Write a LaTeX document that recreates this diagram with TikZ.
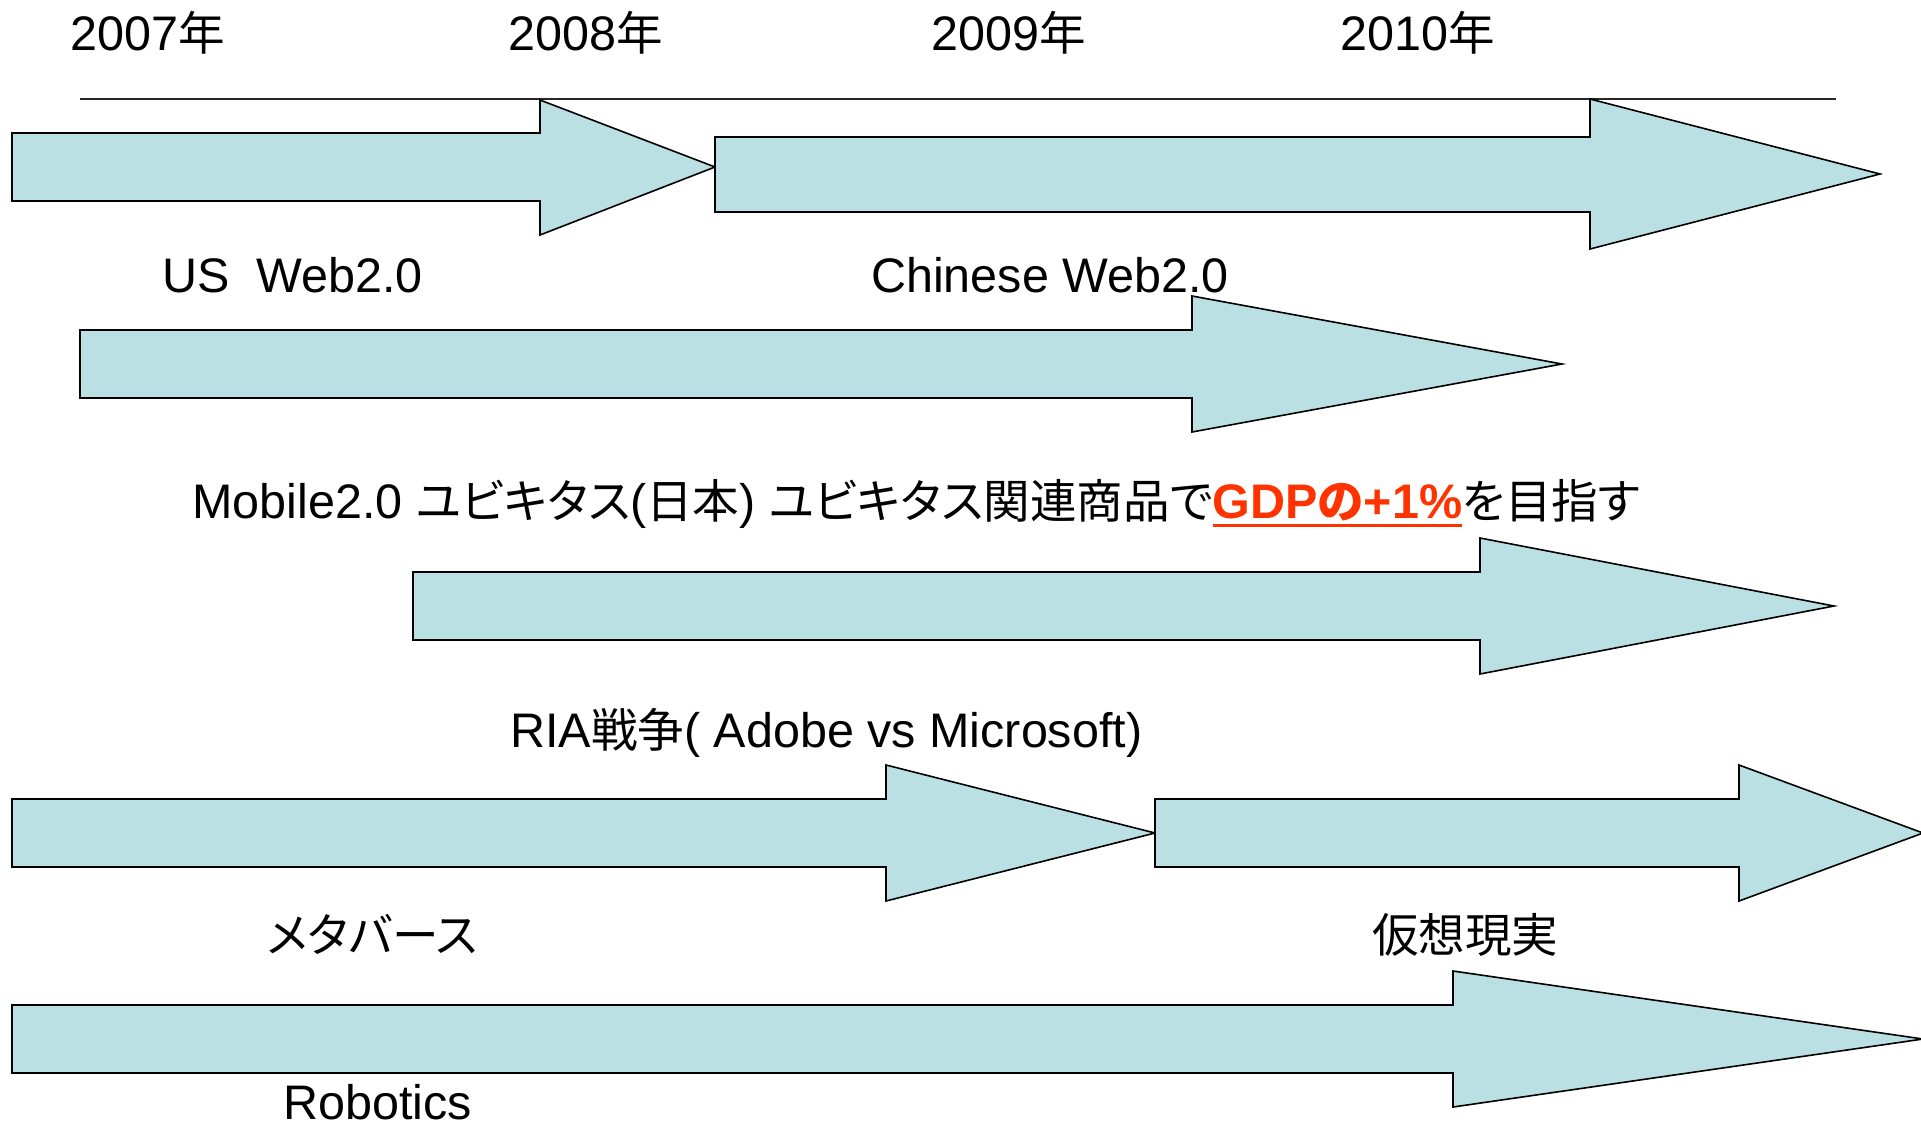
\documentclass[tikz,border=0pt]{standalone}
\usepackage{fontspec}
\setmainfont{Liberation Sans}
\newfontfamily\jp[RawFeature=+palt,Scale=0.96]{Noto Sans CJK JP}
\definecolor{arrowfill}{RGB}{187,224,227}
\definecolor{gdpred}{RGB}{255,51,0}
\newcommand\myarrow[9]{%
  \path[#1] (#2,#3) -- (#5,#3) -- (#5,#6) -- (#8,#9) -- (#5,#7) -- (#5,#4) -- (#2,#4) -- cycle;}
\begin{document}
\begin{tikzpicture}[x=1pt,y=-1pt,
  arr/.style={draw=black, fill=arrowfill, line width=1.6pt, line join=miter},
  lbl/.style={font=\fontsize{48.5}{58}\selectfont, inner sep=0pt, anchor=base west},
  axis/.style={draw=black!85, line width=1.4pt}]
\useasboundingbox (0,0) rectangle (1921,1128);
\fill[white] (0,0) rectangle (1921,1128);
\clip (0,0) rectangle (1921,1128);
% timeline
\coordinate (tl0) at (80,99);
\coordinate (tl1) at (1836,99);
\draw[axis] (tl0) -- (tl1);
% arrows: style, x0, shaft top, shaft bottom, head base x, head top, head bottom, tip x, tip y
\myarrow{arr}{12}{133}{201}{540}{100}{235}{715}{167}
\myarrow{arr}{715}{137}{212}{1590}{99}{249}{1880}{174}
\myarrow{arr}{80}{330}{398}{1192}{296}{432}{1562}{364}
\myarrow{arr}{413}{572}{640}{1480}{538}{674}{1834}{606}
\myarrow{arr}{12}{799}{867}{886}{765}{901}{1155}{833}
\myarrow{arr}{1155}{799}{867}{1739}{765}{901}{1923}{833}
\myarrow{arr}{12}{1005}{1073}{1453}{971}{1107}{1923}{1039}
% labels
\node[lbl] (y2007) at (70,50) {2007{\jp 年}};
\node[lbl] (y2008) at (508,50) {2008{\jp 年}};
\node[lbl] (y2009) at (931,50) {2009{\jp 年}};
\node[lbl] (y2010) at (1340,50) {2010{\jp 年}};
\node[lbl] (usweb) at (162,292) {US\ \ Web2.0};
\node[lbl] (cnweb) at (871,292) {Chinese Web2.0};
\node[lbl] (mobile) at (192,518) {Mobile2.0 {\jp ユビキタス}({\jp 日本}) {\jp ユビキタス関連商品で}{\color{gdpred}\bfseries\setbox0\hbox{GDP{\jp\bfseries の}+1\%}\rlap{\rule[-9pt]{\wd0}{3pt}}\box0}{\jp を目指す}};
\node[lbl] (ria) at (510,747) {RIA{\jp 戦争}( Adobe vs Microsoft)};
\node[lbl] (meta) at (267,952) {\jp メタバース};
\node[lbl] (vr) at (1372,952) {\jp 仮想現実};
\node[lbl] (robo) at (283,1119) {Robotics};
\end{tikzpicture}
\end{document}
